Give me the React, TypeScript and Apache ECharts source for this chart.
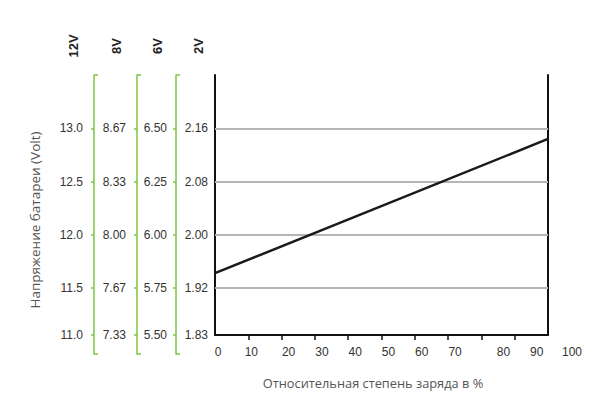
import React, { useEffect, useRef } from "react";
import * as echarts from "echarts";

// ---- data ----
const X_TICKS = [0, 10, 20, 30, 40, 50, 60, 70, 80, 90, 100];
const PCT = [0, 100];
const VOLT_12V = [11.64, 12.9];
const Y_TICKS = [11.06, 11.5, 12.0, 12.5, 13.0]; // positions on the 12V scale
const GRID_VALUES = [11.5, 12.0, 12.5, 13.0];
const LABELS_12V = ["11.0", "11.5", "12.0", "12.5", "13.0"];
const LABELS_8V = ["7.33", "7.67", "8.00", "8.33", "8.67"];
const LABELS_6V = ["5.50", "5.75", "6.00", "6.25", "6.50"];
const LABELS_2V = ["1.83", "1.92", "2.00", "2.08", "2.16"];
const HEADERS = ["12V", "8V", "6V", "2V"];
const Y_TITLE = "Напряжение батареи (Volt)";
const X_TITLE = "Относительная степень заряда в %";

// ---- layout / style ----
const W = 609;
const H = 406;
const GRID_LEFT = 215;
const GRID_RIGHT = 61;
const GRID_TOP = 75;
const GRID_BOTTOM = 71;
const GRID2_BOTTOM = 52;
const Y_MIN = Y_TICKS[0];
const Y_MAX = 13.5;
const GREEN = "#7cc444";
const FONT = "Liberation Sans";
const TITLE_FONT = "Open Sans";

export default function App() {
  const ref = useRef<HTMLDivElement>(null);
  useEffect(() => {
    document.body.style.margin = "0";
    const chart = echarts.init(ref.current!, undefined, { renderer: "svg" });

    const h1 = H - GRID_TOP - GRID_BOTTOM;
    const h2 = H - GRID_TOP - GRID2_BOTTOM;
    const y2Min = Y_MAX - (h2 * (Y_MAX - Y_MIN)) / h1;

    const fmt = (labels: string[]) => (v: number) => {
      const i = Y_TICKS.findIndex((t) => Math.abs(t - v) < 1e-6);
      return i >= 0 ? labels[i] : "";
    };

    const axes = [
      { labels: LABELS_12V, offset: 121, margin: 11, grid: 1 },
      { labels: LABELS_8V, offset: 78, margin: 11, grid: 1 },
      { labels: LABELS_6V, offset: 39, margin: 9, grid: 1 },
      { labels: LABELS_2V, offset: 0, margin: 7, grid: 0 },
    ];

    const yAxes: any[] = axes.map((a) => ({
      type: "value",
      gridIndex: a.grid,
      position: "left",
      offset: a.offset,
      min: a.grid === 0 ? Y_MIN : y2Min,
      max: Y_MAX,
      axisLine: {
        show: true,
        onZero: false,
        lineStyle: { color: a.grid === 0 ? "#111" : GREEN, width: a.grid === 0 ? 2 : 1.5 },
      },
      axisTick: {
        show: a.grid !== 0,
        customValues: Y_TICKS,
        length: 3,
        lineStyle: { color: GREEN, width: 1.5 },
      },
      axisLabel: {
        customValues: Y_TICKS,
        formatter: fmt(a.labels),
        margin: a.margin,
        color: "#333",
        fontSize: 12,
        fontFamily: FONT,
      },
      splitLine: { show: false },
    }));
    yAxes.push({
      type: "value",
      gridIndex: 0,
      position: "right",
      min: Y_MIN,
      max: Y_MAX,
      axisLine: { show: true, onZero: false, lineStyle: { color: "#111", width: 2 } },
      axisTick: { show: false },
      axisLabel: { show: false },
      splitLine: { show: false },
    });

    const shift = (v: number) => {
      if (v <= 10) return "a";
      if (v <= 70) return "b";
      if (v <= 90) return "c";
      return "d";
    };
    const richBase = { color: "#333", fontSize: 12, fontFamily: FONT };

    const graphics: any[] = [];
    axes.forEach((a, i) => {
      const x = GRID_LEFT - a.offset;
      if (a.grid === 1) {
        graphics.push(
          { type: "line", shape: { x1: x, y1: GRID_TOP, x2: x + 4, y2: GRID_TOP }, style: { stroke: GREEN, lineWidth: 1.5 } },
          { type: "line", shape: { x1: x, y1: H - GRID2_BOTTOM, x2: x + 4, y2: H - GRID2_BOTTOM }, style: { stroke: GREEN, lineWidth: 1.5 } }
        );
      }
      graphics.push({
        type: "text",
        x: x - a.margin - 10,
        y: 46,
        rotation: Math.PI / 2,
        style: {
          text: HEADERS[i],
          font: `bold 13px '${FONT}'`,
          fill: "#222",
          align: "center",
          verticalAlign: "middle",
        },
      });
    });
    graphics.push(
      {
        type: "text",
        x: 35,
        y: 220,
        rotation: Math.PI / 2,
        style: { text: Y_TITLE, font: `13.5px '${TITLE_FONT}'`, fill: "#555", align: "center", verticalAlign: "middle" },
      },
      {
        type: "text",
        x: 373,
        y: 383,
        style: { text: X_TITLE, font: `12.8px '${TITLE_FONT}'`, fill: "#555", align: "center", verticalAlign: "middle" },
      }
    );

    chart.setOption({
      animation: false,
      backgroundColor: "#fff",
      grid: [
        { left: GRID_LEFT, right: GRID_RIGHT, top: GRID_TOP, bottom: GRID_BOTTOM },
        { left: GRID_LEFT, right: GRID_RIGHT, top: GRID_TOP, bottom: GRID2_BOTTOM },
      ],
      xAxis: [
        {
          type: "value",
          gridIndex: 0,
          min: X_TICKS[0],
          max: X_TICKS[X_TICKS.length - 1],
          interval: 10,
          axisLine: { show: true, onZero: false, lineStyle: { color: "#111", width: 2 } },
          axisTick: {
            show: true,
            customValues: X_TICKS.slice(1, -1),
            length: 5,
            lineStyle: { color: "#111", width: 1.5 },
          },
          axisLabel: {
            customValues: X_TICKS,
            margin: 11,
            formatter: (v: number) => `{${shift(v)}|${v}}`,
            rich: {
              a: { ...richBase, padding: [0, 0, 0, 6] },
              b: { ...richBase, padding: [0, 0, 0, 14] },
              c: { ...richBase, padding: [0, 0, 0, 44] },
              d: { ...richBase, padding: [0, 0, 0, 48] },
            },
          },
          splitLine: { show: false },
        },
        { type: "value", gridIndex: 1, min: 0, max: 100, show: false },
      ],
      yAxis: yAxes,
      series: [
        {
          type: "line",
          xAxisIndex: 0,
          yAxisIndex: 3,
          data: [],
          z: 1,
          silent: true,
          markLine: {
            silent: true,
            symbol: "none",
            label: { show: false },
            lineStyle: { color: "#b5b5b5", width: 2, type: "solid" },
            data: GRID_VALUES.map((v) => ({ yAxis: v })),
          },
        },
        {
          type: "line",
          xAxisIndex: 0,
          yAxisIndex: 3,
          z: 5,
          showSymbol: false,
          symbol: "none",
          lineStyle: { color: "#1a1a1a", width: 2.5 },
          data: PCT.map((p, i) => [p, VOLT_12V[i]]),
        },
      ],
      graphic: graphics,
    });
    return () => chart.dispose();
  }, []);
  return <div ref={ref} style={{ width: W, height: H }} />;
}
